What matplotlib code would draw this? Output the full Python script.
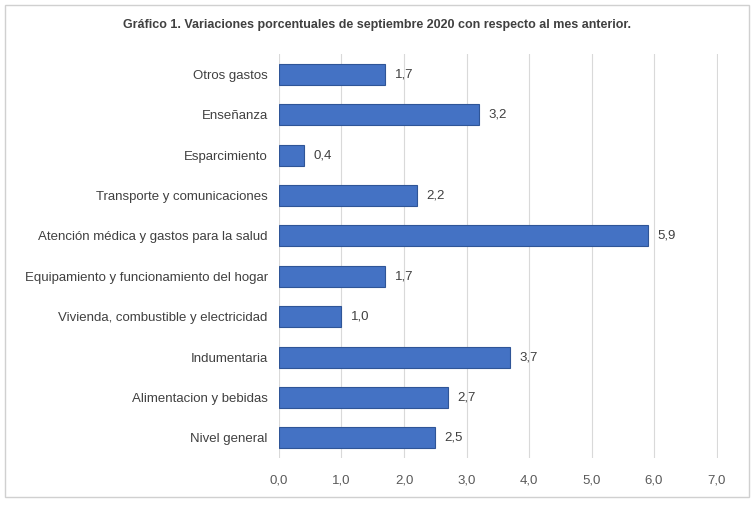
import matplotlib.pyplot as plt
from matplotlib.patches import Rectangle

categorias = ["Nivel general", "Alimentacion y bebidas", "Indumentaria",
              "Vivienda, combustible y electricidad",
              "Equipamiento y funcionamiento del hogar",
              "Atención médica y gastos para la salud",
              "Transporte y comunicaciones", "Esparcimiento",
              "Enseñanza", "Otros gastos"]
valores = [2.5, 2.7, 3.7, 1.0, 1.7, 5.9, 2.2, 0.4, 3.2, 1.7]
ticks = [0, 1, 2, 3, 4, 5, 6, 7]

plt.rcParams['font.family'] = ['Liberation Sans', 'DejaVu Sans']
fig = plt.figure(figsize=(7.54, 5.05), dpi=100)
fig.patches.append(Rectangle((0.007, 0.015), 0.986, 0.975, transform=fig.transFigure,
                             fill=False, edgecolor='#d0d0d0', linewidth=1))
ax = fig.add_axes([0.370, 0.093, 0.582, 0.800])

y = range(len(categorias))
ax.barh(y, valores, height=0.52, color='#4472C4', edgecolor='#2F5597', linewidth=0.8, zorder=3)
for i, v in enumerate(valores):
    ax.text(v + 0.15, i, f"{v:.1f}".replace('.', ','), va='center', ha='left',
            fontsize=9.5, color='#404040')

ax.set_yticks(list(y))
ax.set_yticklabels(categorias, fontsize=9.5, color='#404040')
ax.set_xticks(ticks)
ax.set_xticklabels([f"{t:.1f}".replace('.', ',') for t in ticks], fontsize=9.5, color='#595959')
ax.set_xlim(0, 7.02)
ax.set_ylim(-0.5, len(categorias) - 0.5)
ax.grid(axis='x', color='#d9d9d9', linewidth=0.8, zorder=0)
for s in ax.spines.values():
    s.set_visible(False)
ax.tick_params(length=0, pad=8)
ax.tick_params(axis='x', pad=12)

fig.text(0.5, 0.95, "Gráfico 1. Variaciones porcentuales de septiembre 2020 con respecto al mes anterior.",
         ha='center', va='center', fontsize=9, fontweight='bold', color='#404040')
fig.savefig("out.png")
